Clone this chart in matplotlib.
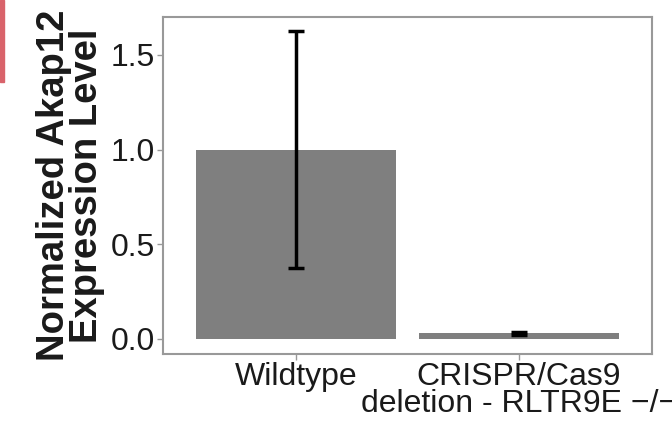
import matplotlib.pyplot as plt
from matplotlib.patches import Rectangle

plt.rcParams['font.family'] = ['Liberation Sans', 'DejaVu Sans']

# Akap12 expression per genotype
genotypes = ['Wildtype', 'CRISPR/Cas9\ndeletion - RLTR9E \u2212/\u2212']
expression = [1.0, 0.03]
expr_err = [0.624, 0.008]

fig = plt.figure(figsize=(6.72, 4.24), dpi=100)
ax = fig.add_axes([163 / 672, 1 - 354 / 424, 489 / 672, 337 / 424])

x = range(len(genotypes))
ax.bar(x, expression, width=0.9, color='#7f7f7f')
ax.errorbar(x, expression, yerr=expr_err, fmt='none', ecolor='black',
            elinewidth=2.5, capsize=6, capthick=2.5)

ax.set_xlim(-0.6, 1.6)
ax.set_ylim(-0.08, 1.70)
ax.set_yticks([0.0, 0.5, 1.0, 1.5])
ax.set_yticklabels(['0.0', '0.5', '1.0', '1.5'])
ax.set_xticks(list(x))
ax.set_xticklabels(genotypes, linespacing=0.85)

for s in ax.spines.values():
    s.set_color('#999999')
    s.set_linewidth(1.5)
ax.tick_params(axis='both', colors='#999999', labelcolor='#1a1a1a',
               labelsize=23, length=4, width=1, pad=2)

ax.set_ylabel('Normalized Akap12\nExpression Level', fontsize=27.5,
              fontweight='bold', linespacing=0.88, labelpad=4,
              color='#1a1a1a')

# small colored tab at the top-left edge
fig.patches.append(Rectangle((0, 1 - 82 / 424), 4 / 672, 82 / 424,
                             transform=fig.transFigure, color='#d9636b'))

fig.savefig('out.png', dpi=100)
